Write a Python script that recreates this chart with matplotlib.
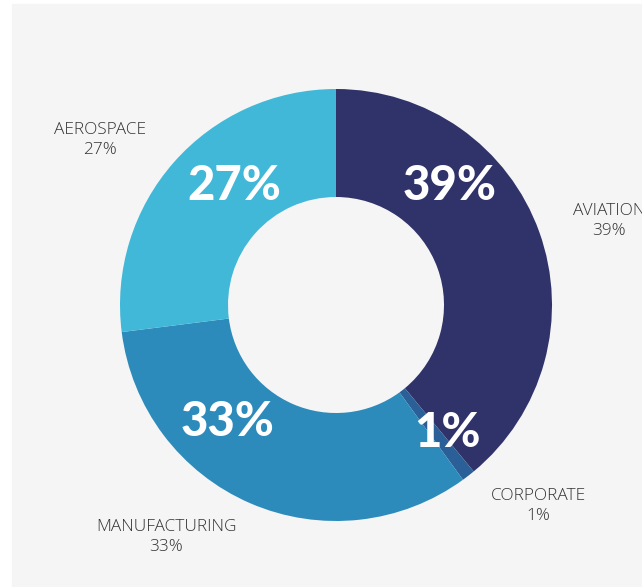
import matplotlib.pyplot as plt
from matplotlib.patches import Rectangle

# segment data
labels = ['AVIATION', 'CORPORATE', 'MANUFACTURING', 'AEROSPACE']
shares = [39, 1, 33, 27]
colors = ['#303369', '#2a5f97', '#2c8bbb', '#41b8d8']

# where the text goes (pixel coords, y from top)
inner_pos = [(450, 186), (447, 433), (228, 422), (234, 186)]
outer_pos = [(609, 221), (538, 506), (166, 537), (100, 140)]

W, H = 642, 587
fig = plt.figure(figsize=(W / 100, H / 100), dpi=100)
fig.patch.set_facecolor('white')
ax = fig.add_axes([0, 0, 1, 1])

# light grey panel
ax.add_patch(Rectangle((12, 1), W - 12, H - 5, color='#f5f5f5', zorder=0))

cx, cy = 336, H - 305
ax.pie(shares, colors=colors, startangle=90, counterclock=False,
       center=(cx, cy), radius=216, frame=True,
       wedgeprops=dict(width=108, linewidth=0))
ax.set_xlim(0, W)
ax.set_ylim(0, H)
ax.set_aspect('equal')
ax.axis('off')

for lab, v, (ix, iy), (ox, oy) in zip(labels, shares, inner_pos, outer_pos):
    ax.text(ix, H - iy, f'{v}%', ha='center', va='center', color='white',
            fontsize=34, fontweight='black', family=['Lato', 'DejaVu Sans'])
    ax.text(ox, H - oy, f'{lab}\n{v}%', ha='center', va='center',
            color='#333333', fontsize=12.4, fontweight='light',
            family=['Open Sans', 'DejaVu Sans'], linespacing=1.35)

fig.savefig('out.png', dpi=100, facecolor=fig.get_facecolor())
